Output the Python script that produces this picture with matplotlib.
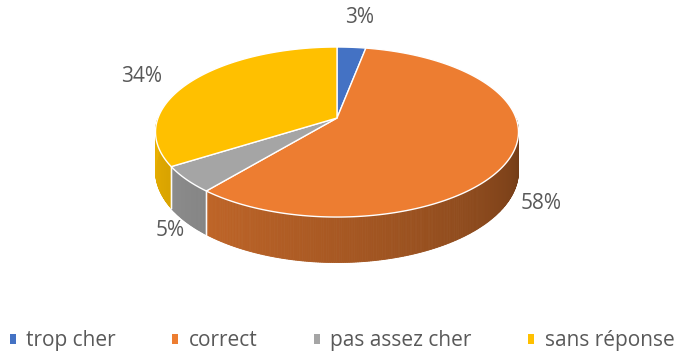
import matplotlib.pyplot as plt
import numpy as np
from matplotlib.patches import Polygon, Patch

# reponses au prix
categories = ['trop cher', 'correct', 'pas assez cher', 'sans réponse']
values = [3, 58, 5, 34]
colors = ['#4472C4', '#ED7D31', '#A5A5A5', '#FFC000']

# geometrie du camembert 3D (en pixels), avec un peu de perspective
vx, vy = 337, 118
rx, ry = 179, 82.7
k = 0.165
depth = 38


def proj(t, r=1.0):
    # t en degres, sens horaire depuis midi
    a = np.radians(t)
    u, v = r * np.sin(a), r * np.cos(a)
    s = 1 / (1 + k * v)
    return vx + rx * u * s, vy - ry * v * s, s


def shade(c, f):
    rgb = np.array(plt.matplotlib.colors.to_rgb(c))
    return tuple(np.clip(rgb * f, 0, 1))


fig = plt.figure(figsize=(6.84, 3.56), dpi=100)
ax = fig.add_axes([0, 0, 1, 1])
ax.set_xlim(0, 684)
ax.set_ylim(356, 0)
ax.axis('off')

total = sum(values)
bounds = np.concatenate([[0], np.cumsum(values) / total * 360])

# faces laterales (partie avant seulement)
for i in range(len(values)):
    a0, a1 = bounds[i], bounds[i + 1]
    lo, hi = max(a0, 90), min(a1, 270)
    if hi <= lo:
        continue
    ts = np.linspace(lo, hi, int((hi - lo) * 2) + 2)
    for j in range(len(ts) - 1):
        x0, y0, s0 = proj(ts[j])
        x1, y1, s1 = proj(ts[j + 1])
        tm = (ts[j] + ts[j + 1]) / 2
        # plus sombre vers la droite
        f = 0.42 + 0.5 * ((tm - 90) / 180) ** 0.8
        poly = [(x0, y0), (x1, y1), (x1, y1 + depth * s1), (x0, y0 + depth * s0)]
        ax.add_patch(Polygon(poly, closed=True, facecolor=shade(colors[i], f),
                             edgecolor=shade(colors[i], f), lw=0.6))
    for t in (a0, a1):
        if 90 <= t <= 270:
            x, y, s = proj(t)
            ax.plot([x, x], [y, y + depth * s], color='white', lw=1, alpha=0.8)

# faces superieures
for i in range(len(values)):
    a0, a1 = bounds[i], bounds[i + 1]
    ts = np.linspace(a0, a1, 200)
    pts = [(vx, vy)] + [proj(t)[:2] for t in ts]
    ax.add_patch(Polygon(pts, closed=True, facecolor=colors[i],
                         edgecolor='white', lw=1))

# etiquettes de pourcentage
cx, cy = 338, 132
for i, v in enumerate(values):
    tm = np.radians((bounds[i] + bounds[i + 1]) / 2)
    x = cx + 224 * np.sin(tm)
    y = cy - 115 * np.cos(tm)
    if np.cos(tm) < 0:
        y += depth * 0.6
    ax.text(x, y, f'{v}%', ha='center', va='center', fontsize=15,
            color='#595959', family='Open Sans')

handles = [Patch(facecolor=c, edgecolor='none') for c in colors]
ax.legend(handles, categories, loc='lower center', bbox_to_anchor=(0.5, -0.04),
          ncol=4, frameon=False, handlelength=0.3, handleheight=0.3,
          handletextpad=0.5, columnspacing=2.7,
          prop={'family': 'Open Sans', 'size': 15}, labelcolor='#595959')

fig.savefig('out.png', dpi=100)
